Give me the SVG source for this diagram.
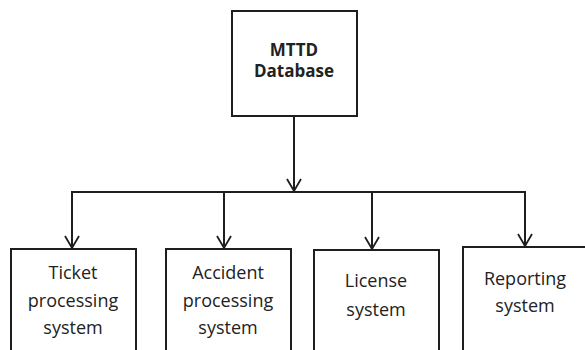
<svg xmlns="http://www.w3.org/2000/svg" width="585" height="350" viewBox="0 0 585 350">
<defs>
<marker id="arr" viewBox="0 0 16 16" refX="14" refY="8" markerWidth="16" markerHeight="16" markerUnits="userSpaceOnUse" orient="auto">
<path d="M2,1 L14,8 L2,15" fill="none" stroke="#1e1e1e" stroke-width="1.8"/>
</marker>
<style>
.box{fill:#fff;stroke:#1e1e1e;stroke-width:2}
.ln{fill:none;stroke:#1e1e1e;stroke-width:2}
.t{font-family:"Open Sans","Liberation Sans",sans-serif;font-size:18px;fill:#222;text-anchor:middle}
.b{font-weight:bold;font-size:17px}
</style>
</defs>
<rect width="585" height="350" fill="#fff"/>
<g id="connectors">
<line class="ln" x1="294" y1="116" x2="294" y2="191" marker-end="url(#arr)"/>
<polyline class="ln" points="72,249 72,192 525,192 525,247" fill="none"/>
<line class="ln" x1="72" y1="192" x2="72" y2="248" marker-end="url(#arr)"/>
<line class="ln" x1="224" y1="192" x2="224" y2="248" marker-end="url(#arr)"/>
<line class="ln" x1="372" y1="192" x2="372" y2="249" marker-end="url(#arr)"/>
<line class="ln" x1="525" y1="192" x2="525" y2="246" marker-end="url(#arr)"/>
</g>
<g id="mttd">
<rect class="box" x="232" y="11" width="125" height="105"/>
<text class="t b" x="294" y="56">MTTD</text>
<text class="t b" x="294" y="77">Database</text>
</g>
<g id="ticket">
<rect class="box" x="11" y="249" width="125" height="120"/>
<text class="t" x="73" y="279">Ticket</text>
<text class="t" x="73" y="307">processing</text>
<text class="t" x="73" y="334">system</text>
</g>
<g id="accident">
<rect class="box" x="166" y="249" width="125" height="120"/>
<text class="t" x="228" y="279">Accident</text>
<text class="t" x="228" y="307">processing</text>
<text class="t" x="228" y="334">system</text>
</g>
<g id="license">
<rect class="box" x="314" y="250" width="125" height="120"/>
<text class="t" x="376" y="287">License</text>
<text class="t" x="376" y="316">system</text>
</g>
<g id="reporting">
<rect class="box" x="463" y="247" width="126" height="120"/>
<text class="t" x="525" y="285">Reporting</text>
<text class="t" x="525" y="312">system</text>
</g>
</svg>
